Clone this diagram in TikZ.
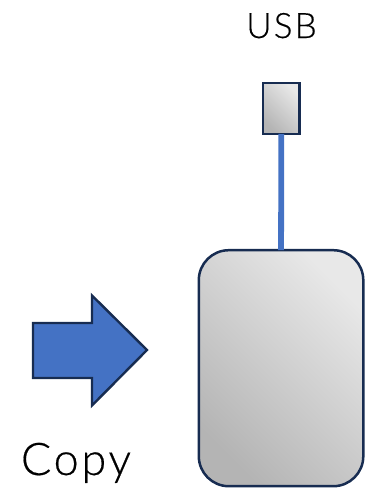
\documentclass[tikz,border=0pt]{standalone}
\usepackage{fontspec}
\setmainfont[BoldFont={*},FakeBold=0.4]{Lato Light}
\definecolor{edgeblue}{HTML}{172C51}
\definecolor{fillblue}{HTML}{4472C4}
\definecolor{gradlight}{HTML}{E8E8E8}
\definecolor{graddark}{HTML}{B4B4B4}
\tikzset{x=1pt,y=-1pt,
 grad/.style={draw=edgeblue,line width=2.5pt,outer sep=0pt,inner sep=0pt,shading=axis,top color=gradlight,bottom color=graddark,shading angle=-45},
 lbl/.style={inner sep=0pt,anchor=base,text=black}}
\begin{document}
\begin{tikzpicture}
\useasboundingbox (0,0) rectangle (375,488);
\node[grad,rectangle,minimum width=36.3pt,minimum height=51pt,anchor=north west] (usb) at (263.2,83) {};
\node[grad,rectangle,rounded corners=30pt,minimum width=164.5pt,minimum height=236pt,anchor=north west] (dev) at (198.8,250.2) {};
\draw[fillblue,line width=5.8pt] (usb.south) -- (dev.north);
\draw[draw=edgeblue,fill=fillblue,line width=2.4pt,line join=miter] (33,323) -- (92,323) -- (92,295.5) -- (147,350) -- (92,405.5) -- (92,378) -- (33,378) -- cycle;
\node[lbl,font=\addfontfeatures{LetterSpace=6}\fontsize{35}{40}\selectfont] (usblabel) at (281.5,38) {USB};
\node[lbl,font=\addfontfeatures{LetterSpace=6}\fontsize{45}{50}\selectfont] (copylabel) at (76,475) {Copy};
\end{tikzpicture}
\end{document}
